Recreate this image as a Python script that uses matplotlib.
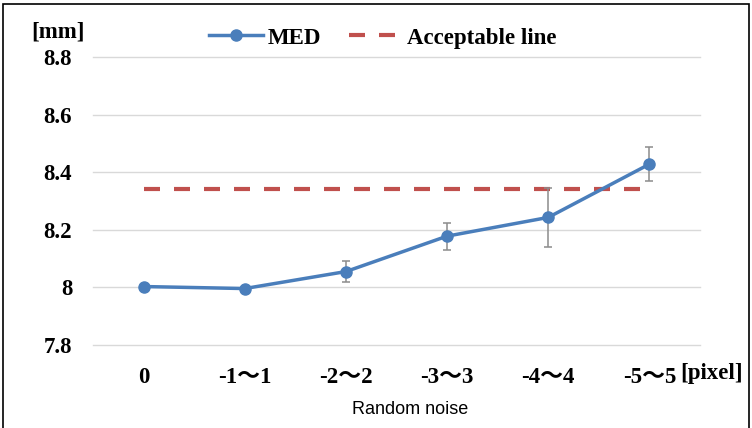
import matplotlib
matplotlib.use("Agg")
import matplotlib.pyplot as plt
from matplotlib.patches import Rectangle

categories = ["0", "-1～1", "-2～2", "-3～3", "-4～4", "-5～5"]
med = [8.003, 7.996, 8.055, 8.178, 8.243, 8.428]
med_err = [0.0, 0.0, 0.035, 0.047, 0.103, 0.06]
acceptable = [8.34, 8.34, 8.34, 8.34, 8.34, 8.34]
yticks = [7.8, 8.0, 8.2, 8.4, 8.6, 8.8]
ytick_labels = ["7.8", "8", "8.2", "8.4", "8.6", "8.8"]

serif = ["Liberation Serif", "Noto Sans CJK JP"]
FS = 16.5

fig = plt.figure(figsize=(7.52, 4.28), dpi=100)
ax = fig.add_axes([93/752, 1-345/428, (700-93)/752, (345-57)/428])

x = list(range(len(categories)))
ax.plot(x, acceptable, color="#C0504D", lw=3, dashes=(3.84, 3.36), label="Acceptable line", zorder=2)
ax.errorbar(x, med, yerr=med_err, fmt="none", ecolor="#8c8c8c", elinewidth=1.1, capsize=3, capthick=1.1, zorder=3)
ax.plot(x, med, color="#4A7EBB", lw=2.5, marker="o", ms=8, label="MED", zorder=4)

ax.set_xlim(-0.5, 5.5)
ax.set_ylim(7.8, 8.8)
ax.set_yticks(yticks)
ax.set_yticklabels(ytick_labels)
ax.set_xticks(x)
ax.set_xticklabels(categories)
for lab in ax.get_xticklabels() + ax.get_yticklabels():
    lab.set_family(serif)
    lab.set_fontweight("bold")
    lab.set_fontsize(FS)
ax.tick_params(axis="both", length=0)
ax.tick_params(axis="x", pad=15.5)
ax.tick_params(axis="y", pad=15)
ax.grid(axis="y", color="#d9d9d9", lw=1)
for gl in ax.get_ygridlines():
    gl.set_clip_on(False)
ax.set_axisbelow(True)
for s in ax.spines.values():
    s.set_visible(False)

handles, labels = ax.get_legend_handles_labels()
order = [1, 0]
leg = fig.legend([handles[i] for i in order], [labels[i] for i in order],
                 loc="center", bbox_to_anchor=(383/752, 1-38/428), ncol=2, frameon=False,
                 prop={"family": serif, "weight": "bold", "size": FS},
                 handlelength=2.35, columnspacing=1.2, handletextpad=0.2)

fig.text(58/752, 1-32/428, "[mm]", family=serif, weight="bold", size=FS, ha="center", va="center")
fig.text(712/752, 1-374/428, "[pixel]", family=serif, weight="bold", size=FS, ha="center", va="center")
fig.text(410/752, 1-409/428, "Random noise", family=["Liberation Sans"], size=13, ha="center", va="center")

fig.patches.append(Rectangle((3/752, -0.05), (749-3)/752, 1.05 - 4/428, transform=fig.transFigure,
                             fill=False, edgecolor="black", lw=1.2))

fig.savefig("out.png", dpi=100)
